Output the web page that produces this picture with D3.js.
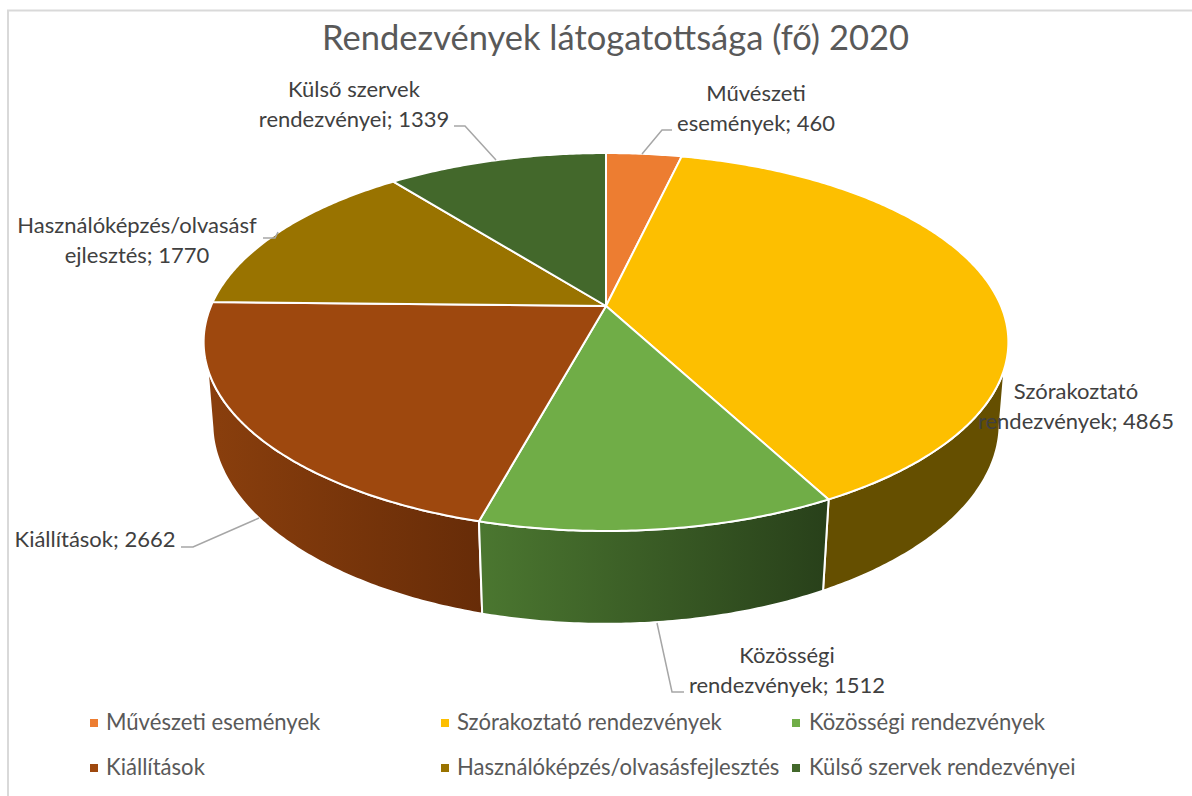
<!DOCTYPE html>
<html>
<head>
<meta charset="utf-8">
<script src="https://cdn.jsdelivr.net/npm/d3@7/dist/d3.min.js"></script>
<style>
html,body{margin:0;padding:0;background:#fff;}
svg{display:block;}
text{font-family:Lato,"Open Sans",sans-serif;}
</style>
</head>
<body>
<div id="chart"></div>
<script>
// data
var categories=["Művészeti események","Szórakoztató rendezvények","Közösségi rendezvények","Kiállítások","Használóképzés/olvasásfejlesztés","Külső szervek rendezvényei"];
var values=[460,4865,1512,2662,1770,1339];
var topColors=["#ED7D31","#FDBF00","#70AD47","#9E480E","#997300","#43682B"];
var wallLeft=["#8E4A1D","#654F00","#4B7730","#8A3F0D","#5C4500","#284018"];
var wallRight=["#8E4A1D","#654F00","#28401A","#672C08","#5C4500","#284018"];
var labelLines=[["Művészeti","események; 460"],["Szórakoztató","rendezvények; 4865"],["Közösségi","rendezvények; 1512"],["Kiállítások; 2662"],["Használóképzés/olvasásf","ejlesztés; 1770"],["Külső szervek","rendezvényei; 1339"]];
var title="Rendezvények látogatottsága (fő) 2020";

// layout
var width=1192, height=796;
var labelPos=[[756,101],[1076,399],[787,663],[95,547],[137,233],[354,97]];
var leaders=[
	[[642,154],[662,130],[672,130]],
	null,
	[[657,623],[672,692],[684,692]],
	[[259,518],[193,547],[181,547]],
	[[278,232],[275,238],[263,238]],
	[[496,160],[465,126],[454,126]]
];
var legendPos=[[90,106,727],[441,457,727],[792,809,727],[90,106,772],[441,457,772],[792,809,772]];

// perspective of the disc: centre, radii, tilt, and the drop of the lower rim
var cx=606, cy=306, R=395, S=182.1, k=0.1905, drop=82, shrink=0.0214;
// the side of the pie leaves the top rim here, and runs almost straight to the lower rim
var rimTurn=-0.2, tangent=-0.32;

// unit circle to screen. level 0 is the top rim, level 1 the bottom rim
var project=function(a,level){
	var u=Math.sin(a), v=Math.cos(a);
	var w=1+k*v+shrink*level;
	return [cx+R*u/w, cy+(-S*v+drop*level)/w];
};
var lowerPoint=function(a){
	if(Math.cos(a)<=rimTurn) return project(a,1);
	var t=Math.acos(tangent);
	return project(Math.sin(a)>0 ? t : 2*Math.PI-t,0);
};
var angles=function(a0,a1){
	var n=Math.max(2,Math.ceil((a1-a0)/0.01));
	return d3.range(n+1).map(function(i){return a0+(a1-a0)*i/n;});
};
var upperRim=function(a0,a1){
	return angles(a0,a1).map(function(a){return project(a,0);});
};
var lowerRim=function(a0,a1){
	return angles(a0,a1).map(lowerPoint);
};

var svg=d3.select("#chart").append("svg").attr("width",width).attr("height",height);
var defs=svg.append("defs");
var line=d3.line();
var slices=d3.pie().sort(null).value(function(d){return d;})(values);

// chart frame, only top and left show in the crop
svg.append("path").attr("d","M8,796V10.5H1192").attr("fill","none").attr("stroke","#d9d9d9").attr("stroke-width",2);

svg.append("text").attr("x",615.5).attr("y",50).attr("text-anchor","middle")
	.attr("font-size",34.5).attr("fill","#595959").text(title);

slices.forEach(function(d,i){
	var g=defs.append("linearGradient").attr("id","wall"+i);
	g.append("stop").attr("offset","0%").attr("stop-color",wallLeft[i]);
	g.append("stop").attr("offset","100%").attr("stop-color",wallRight[i]);
});

// walls first, back ones before front ones
var order=d3.range(slices.length).sort(function(a,b){
	return Math.cos((slices[b].startAngle+slices[b].endAngle)/2)-Math.cos((slices[a].startAngle+slices[a].endAngle)/2);
});
svg.append("g").selectAll("path").data(order).enter().append("path")
	.attr("d",function(i){
		var d=slices[i];
		return line(upperRim(d.startAngle,d.endAngle).concat(lowerRim(d.startAngle,d.endAngle).reverse()))+"Z";
	})
	.attr("fill",function(i){return "url(#wall"+i+")";})
	.attr("stroke","#fff").attr("stroke-width",2).attr("stroke-linejoin","round");

// top faces
svg.append("g").selectAll("path").data(slices).enter().append("path")
	.attr("d",function(d){return line([[cx,cy]].concat(upperRim(d.startAngle,d.endAngle)))+"Z";})
	.attr("fill",function(d,i){return topColors[i];})
	.attr("stroke","#fff").attr("stroke-width",2).attr("stroke-linejoin","round");

// leader lines
svg.append("g").selectAll("path").data(leaders.filter(Boolean)).enter().append("path")
	.attr("d",line).attr("fill","none").attr("stroke","#a6a6a6").attr("stroke-width",1.5);

// data labels
var lab=svg.append("g").selectAll("text").data(labelLines).enter().append("text")
	.attr("text-anchor","middle").attr("font-size",22).attr("fill","#404040");
lab.each(function(lines,i){
	d3.select(this).selectAll("tspan").data(lines).enter().append("tspan")
		.attr("x",labelPos[i][0])
		.attr("y",function(t,j){return labelPos[i][1]+j*29.5;})
		.text(function(t){return t;});
});

// legend
var leg=svg.append("g").selectAll("g").data(categories).enter().append("g");
leg.append("rect")
	.attr("x",function(d,i){return legendPos[i][0];})
	.attr("y",function(d,i){return legendPos[i][2]-8;})
	.attr("width",8).attr("height",8)
	.attr("fill",function(d,i){return topColors[i];});
leg.append("text")
	.attr("x",function(d,i){return legendPos[i][1];})
	.attr("y",function(d,i){return legendPos[i][2]+3;})
	.attr("font-size",22.1).attr("fill","#595959")
	.text(function(d){return d;});
</script>
</body>
</html>
